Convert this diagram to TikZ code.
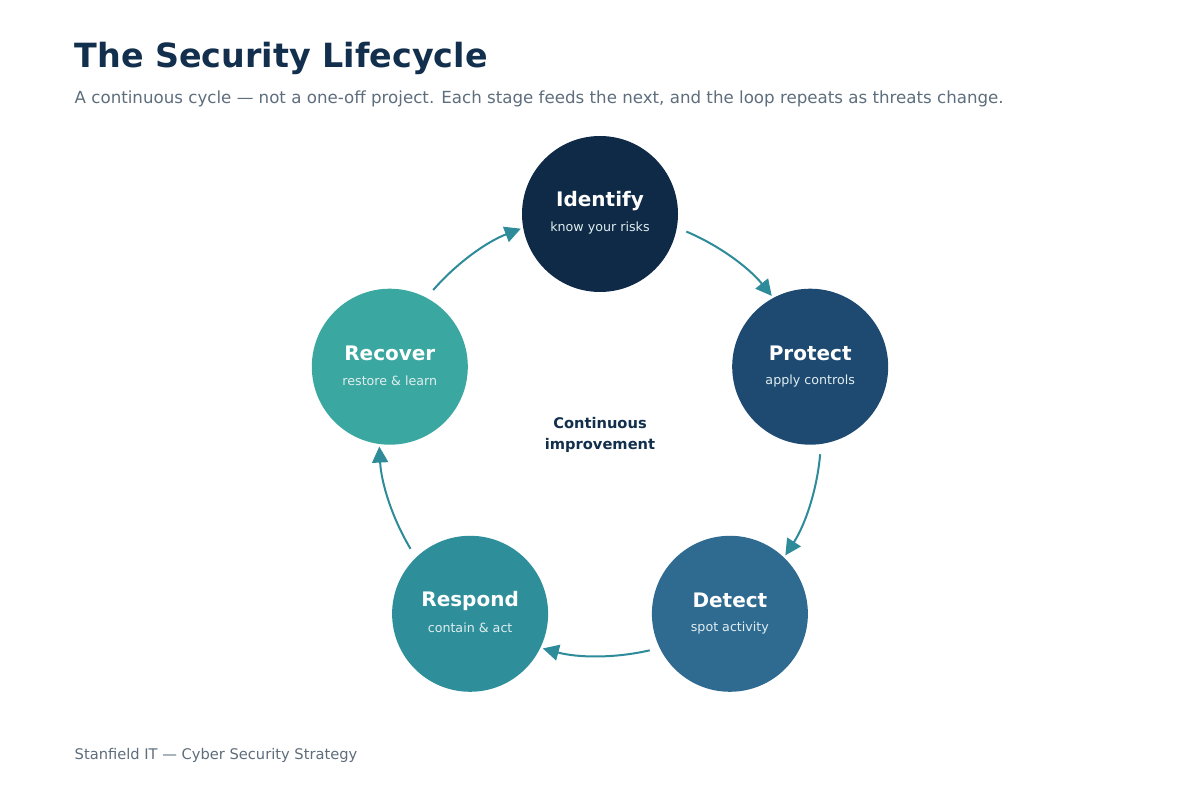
\documentclass[tikz,border=0pt]{standalone}
\usepackage{fontspec}
\setmainfont{DejaVu Sans}
\usetikzlibrary{arrows.meta,calc}
\definecolor{ink}{HTML}{12304D}
\definecolor{grey}{HTML}{5E6E7C}
\definecolor{cIdentify}{HTML}{0F2A47}
\definecolor{cProtect}{HTML}{1E4A72}
\definecolor{cDetect}{HTML}{2F6A91}
\definecolor{cRespond}{HTML}{2E8F9A}
\definecolor{cRecover}{HTML}{3AA8A0}
\definecolor{flowc}{HTML}{2E8B99}
\tikzset{
  stage/.style={circle,minimum size=117pt,inner sep=0pt,align=center,text=white},
  flow/.style={draw=flowc,line width=1.5pt,-{Triangle[length=12pt,width=12pt]}},
}
\begin{document}
\begin{tikzpicture}[x=0.75pt,y=0.75pt]
  \useasboundingbox[fill=white] (0,0) rectangle (1200,790);
  \coordinate (C) at (600,355);
  \node[anchor=base west,text=ink,font=\fontsize{25}{30}\selectfont\bfseries] (title) at (70,722) {The Security Lifecycle};
  \node[anchor=base west,text=grey,font=\fontsize{12.5}{15}\selectfont] (sub) at (70,686) {A continuous cycle — not a one-off project. Each stage feeds the next, and the loop repeats as threats change.};
  \node[anchor=base west,text=grey,font=\fontsize{11}{13}\selectfont] (foot) at (70,31) {Stanfield IT — Cyber Security Strategy};
  % arcs between stages
  \foreach \a in {90,18,-54,-126,-198}
    \draw[flow] ($(C)+(\a-23:221)$) arc[start angle=\a-23,end angle=\a-72+21,radius=221];
  % stages
  \node[stage,fill=cIdentify] (identify) at ($(C)+(90:221)$) {};
  \node[stage,fill=cProtect] (protect) at ($(C)+(18:221)$) {};
  \node[stage,fill=cDetect] (detect) at ($(C)+(-54:221)$) {};
  \node[stage,fill=cRespond] (respond) at ($(C)+(-126:221)$) {};
  \node[stage,fill=cRecover] (recover) at ($(C)+(162:221)$) {};
  \foreach \n/\t/\s in {identify/Identify/know your risks,protect/Protect/apply controls,detect/Detect/spot activity,respond/Respond/contain \& act,recover/Recover/restore \& learn}{
    \node[text=white,font=\fontsize{15}{18}\selectfont\bfseries] at ($(\n)+(0,13)$) {\t};
    \node[text=white!85!cRespond,font=\fontsize{9.5}{11}\selectfont] at ($(\n)+(0,-14)$) {\s};
  }
  \node[align=center,text=ink,font=\fontsize{11}{16}\selectfont\bfseries] (mid) at (C) {Continuous\\improvement};
\end{tikzpicture}
\end{document}
